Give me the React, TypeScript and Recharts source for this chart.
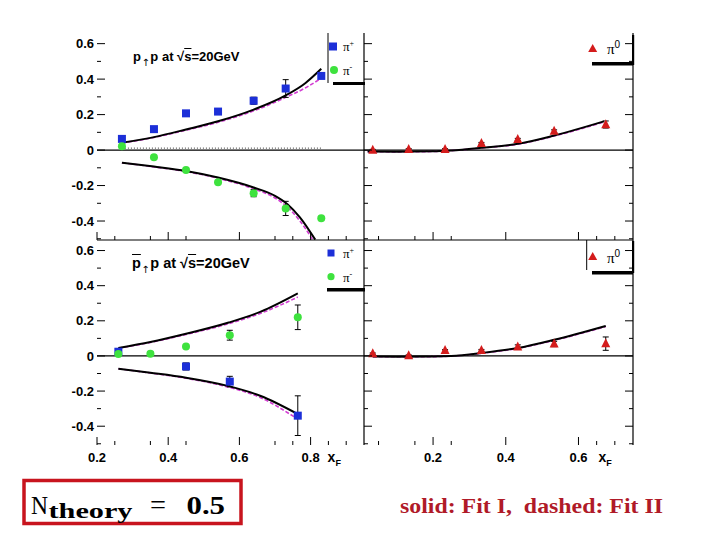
import React from "react";
import { ComposedChart, Line, Scatter, XAxis, YAxis, ErrorBar, ReferenceLine } from "recharts";

// ---------- data: p(up) p, sqrt(s)=20 GeV, charged pions (top left) ----------
const ppX = [0.27, 0.36, 0.45, 0.54, 0.64, 0.73, 0.83];
const ppPiPlus = [0.063, 0.118, 0.207, 0.217, 0.278, 0.347, 0.418];
const ppPiPlusErr = [0.008, 0.012, 0.008, 0.008, 0.02, 0.05, 0.01];
const ppPiMinus = [0.022, -0.041, -0.112, -0.181, -0.243, -0.329, -0.385];
const ppPiMinusErr = [0.005, 0.005, 0.006, 0.008, 0.02, 0.04, 0.008];

const ppUpX = [0.27, 0.36, 0.45, 0.54, 0.64, 0.73, 0.785, 0.83];
const ppFit1Plus = [0.041, 0.073, 0.116, 0.162, 0.228, 0.308, 0.377, 0.458];
const ppFit2Plus = [0.04, 0.071, 0.112, 0.157, 0.221, 0.297, 0.35, 0.405];
const ppLowX = [0.27, 0.36, 0.45, 0.54, 0.64, 0.7, 0.735, 0.77, 0.813];
const ppFit1Minus = [-0.071, -0.093, -0.118, -0.155, -0.211, -0.258, -0.305, -0.379, -0.505];
const ppFit2Minus = [-0.072, -0.095, -0.121, -0.159, -0.218, -0.27, -0.322, -0.4, -0.505];
const ppLowX2 = [0.27, 0.36, 0.45, 0.54, 0.64, 0.7, 0.735, 0.77, 0.806];
const ppDottedX = [0.27, 0.83];
const ppDotted = [0.011, 0.011];

// ---------- p(up) p, neutral pions (top right) ----------
const pi0X = [0.034, 0.133, 0.233, 0.333, 0.433, 0.533, 0.675];
const ppPi0 = [0.0, 0.004, 0.004, 0.038, 0.06, 0.106, 0.144];
const ppPi0Err = [0.004, 0.004, 0.004, 0.005, 0.006, 0.008, 0.02];
const ppPi0CurveX = [0.02, 0.1, 0.2, 0.25, 0.333, 0.433, 0.533, 0.67];
const ppPi0Fit1 = [-0.008, -0.009, -0.007, -0.002, 0.013, 0.035, 0.082, 0.162];
const ppPi0Fit2 = [-0.009, -0.01, -0.008, -0.003, 0.012, 0.033, 0.079, 0.158];

// ---------- pbar(up) p, charged pions (bottom left) ----------
const pbMinusX = [0.26, 0.35, 0.45, 0.573, 0.764];
const pbPiMinus = [0.011, 0.013, 0.054, 0.118, 0.22];
const pbPiMinusErr = [0.008, 0.01, 0.008, 0.028, 0.07];
const pbPlusX = [0.26, 0.45, 0.573, 0.764];
const pbPiPlus = [0.024, -0.06, -0.146, -0.34];
const pbPiPlusErr = [0.008, 0.02, 0.03, 0.113];

const pbCurveX = [0.26, 0.35, 0.45, 0.57, 0.66, 0.764];
const pbFit1Up = [0.045, 0.079, 0.126, 0.19, 0.252, 0.356];
const pbFit2Up = [0.044, 0.077, 0.122, 0.184, 0.243, 0.335];
const pbFit1Down = [-0.073, -0.096, -0.124, -0.172, -0.228, -0.331];
const pbFit2Down = [-0.073, -0.097, -0.127, -0.178, -0.238, -0.36];

// ---------- pbar(up) p, neutral pions (bottom right) ----------
const pbPi0 = [0.013, 0.002, 0.032, 0.032, 0.051, 0.068, 0.07];
const pbPi0Err = [0.004, 0.004, 0.004, 0.005, 0.012, 0.015, 0.038];
const pbPi0CurveX = [0.034, 0.1, 0.2, 0.25, 0.333, 0.433, 0.533, 0.675];
const pbPi0Fit1 = [-0.003, -0.004, -0.003, 0.0, 0.017, 0.045, 0.092, 0.171];
const pbPi0Fit2 = [-0.004, -0.005, -0.004, -0.001, 0.015, 0.043, 0.089, 0.167];

// ---------- axes ----------
const yTicks = [-0.5, -0.4, -0.3, -0.2, -0.1, 0, 0.1, 0.2, 0.3, 0.4, 0.5, 0.6];
const yLabels = [0.6, 0.4, 0.2, 0, -0.2, -0.4];
const leftXTicks = [0.2, 0.25, 0.35, 0.4, 0.45, 0.6, 0.7, 0.75, 0.8, 0.85, 0.9];
const leftXLabels = [0.2, 0.4, 0.6, 0.8];
const rightXTicks = [0.05, 0.15, 0.2, 0.25, 0.4, 0.6, 0.65, 0.7];
const rightXLabels = [0.2, 0.4, 0.6];
const leftXDomain = [0.2, 0.95];
const rightXDomain = [0.01, 0.75];
const yDomain = [-0.507, 0.66];

// ---------- helpers ----------
const zip = (xs: number[], ys: number[], es?: number[]) =>
  xs.map((x, i) => (es ? { x, y: ys[i], err: es[i] } : { x, y: ys[i] }));

const BLUE = "#1c2fd8";
const GREEN = "#3ee23e";
const RED = "#d41c1c";
const MAGENTA = "#d23cd2";
const AXIS_FONT = "'Liberation Sans', Arial, sans-serif";
const SERIF = "'Liberation Serif', 'Times New Roman', serif";

const near = (a: number, b: number) => Math.abs(a - b) < 1e-9;
const isMajor = (v: number) => near(Math.round(v * 5) / 5, v);

const squareShape = (size: number) => (p: any) => (
  <rect x={p.cx - size / 2} y={p.cy - size / 2} width={size} height={size} fill={BLUE} />
);
const circleShape = (r: number) => (p: any) => <circle cx={p.cx} cy={p.cy} r={r} fill={GREEN} />;
const triangleShape = (s: number) => (p: any) => (
  <polygon
    points={`${p.cx},${p.cy - s * 0.6} ${p.cx - s / 2},${p.cy + s * 0.4} ${p.cx + s / 2},${p.cy + s * 0.4}`}
    fill={RED}
  />
);

const xTick = (axisY: number, labels: number[] | null, xfOffset: number) => (props: any) => {
  const { x, payload } = props;
  const v: number = payload.value;
  const len = isMajor(v) ? 8 : 4;
  const showLabel = labels !== null && labels.some((l) => near(l, v));
  const isLast = labels !== null && near(labels[labels.length - 1], v);
  return (
    <g>
      <line x1={x} x2={x} y1={axisY} y2={axisY - len} stroke="#000" strokeWidth={1} />
      {showLabel && (
        <text x={x} y={axisY + 16.5} textAnchor="middle" fontFamily={AXIS_FONT} fontWeight="bold" fontSize={13} fill="#000">
          {String(v)}
        </text>
      )}
      {showLabel && isLast && (
        <text x={x + xfOffset} y={axisY + 16.5} fontFamily={AXIS_FONT} fontWeight="bold" fontSize={14} fill="#000">
          x
          <tspan dy={4} fontSize={9}>F</tspan>
        </text>
      )}
    </g>
  );
};

const yTickLeft = (plotLeft: number) => (props: any) => {
  const { y, payload } = props;
  const v: number = payload.value;
  const len = isMajor(v) ? 8 : 4;
  const showLabel = yLabels.some((l) => near(l, v));
  return (
    <g>
      <line x1={plotLeft} x2={plotLeft + len} y1={y} y2={y} stroke="#000" strokeWidth={1} />
      {showLabel && (
        <text x={plotLeft - 3} y={y} dy="0.36em" textAnchor="end" fontFamily={AXIS_FONT} fontWeight="bold" fontSize={13} fill="#000">
          {String(v)}
        </text>
      )}
    </g>
  );
};

const yTickRight = (plotLeft: number, plotRight: number) => (props: any) => {
  const { y, payload } = props;
  const v: number = payload.value;
  const len = isMajor(v) ? 8 : 4;
  return (
    <g>
      <line x1={plotLeft} x2={plotLeft + len} y1={y} y2={y} stroke="#000" strokeWidth={1} />
      <line x1={plotRight} x2={plotRight - len} y1={y} y2={y} stroke="#000" strokeWidth={1} />
    </g>
  );
};

const fitLines = (pairs: { x: number[]; y1: number[]; y2: number[] }[], prefix: string) => {
  const out: any[] = [];
  pairs.forEach((p, i) => {
    out.push(
      <Line
        key={`${prefix}d${i}`}
        data={zip(p.x, p.y2)}
        dataKey="y"
        type="monotone"
        dot={false}
        stroke={MAGENTA}
        strokeWidth={1.6}
        strokeDasharray="4 2"
        isAnimationActive={false}
      />
    );
  });
  pairs.forEach((p, i) => {
    out.push(
      <Line
        key={`${prefix}s${i}`}
        data={zip(p.x, p.y1)}
        dataKey="y"
        type="monotone"
        dot={false}
        stroke="#000"
        strokeWidth={2}
        isAnimationActive={false}
      />
    );
  });
  return out;
};

const abs = (left: number, top: number): React.CSSProperties => ({ position: "absolute", left, top });
const ARROW_STYLE: React.CSSProperties = {
  fontFamily: "'DejaVu Sans', sans-serif",
  fontWeight: "normal",
  fontSize: 10,
  position: "relative",
  top: 5,
  margin: "0 0.5px",
};

export default function App() {
  return (
    <div style={{ position: "absolute", left: 0, top: 0, width: 720, height: 540, background: "#fff", overflow: "hidden" }}>
      {/* top left: p(up)p charged */}
      <div style={abs(0, 0)}>
        <ComposedChart width={368} height={245} margin={{ top: 33, right: 4, bottom: 4, left: 0 }}>
          <XAxis type="number" dataKey="x" domain={leftXDomain} allowDataOverflow ticks={leftXTicks} interval={0} height={1}
            tickLine={false} axisLine={{ stroke: "#000", strokeWidth: 1.2 }} tick={xTick(240, null, 0)} />
          <YAxis type="number" dataKey="y" domain={yDomain} allowDataOverflow ticks={yTicks} interval={0} width={97}
            tickLine={false} axisLine={false} tick={yTickLeft(97)} />
          <ReferenceLine y={0} stroke="#000" strokeWidth={1.2} />
          <Line data={zip(ppDottedX, ppDotted)} dataKey="y" type="linear" dot={false} stroke="#333" strokeWidth={1} strokeDasharray="1 2" isAnimationActive={false} />
          {fitLines([{ x: ppUpX, y1: ppFit1Plus, y2: ppFit2Plus }], "tlu")}
          <Line data={zip(ppLowX2, ppFit2Minus)} dataKey="y" type="monotone" dot={false} stroke={MAGENTA} strokeWidth={1.6} strokeDasharray="4 2" isAnimationActive={false} />
          <Line data={zip(ppLowX, ppFit1Minus)} dataKey="y" type="monotone" dot={false} stroke="#000" strokeWidth={2} isAnimationActive={false} />
          <Scatter data={zip(ppX, ppPiPlus, ppPiPlusErr)} dataKey="y" shape={squareShape(8)} isAnimationActive={false}>
            <ErrorBar dataKey="err" direction="y" width={3} stroke="#000" strokeWidth={1} />
          </Scatter>
          <Scatter data={zip(ppX, ppPiMinus, ppPiMinusErr)} dataKey="y" shape={circleShape(4)} isAnimationActive={false}>
            <ErrorBar dataKey="err" direction="y" width={3} stroke="#000" strokeWidth={1} />
          </Scatter>
        </ComposedChart>
      </div>

      {/* bottom left: pbar(up)p charged */}
      <div style={abs(0, 236)}>
        <ComposedChart width={368} height={234} margin={{ top: 4, right: 4, bottom: 0, left: 0 }}>
          <XAxis type="number" dataKey="x" domain={leftXDomain} allowDataOverflow ticks={leftXTicks} interval={0} height={25}
            tickLine={false} axisLine={false} tick={xTick(209, leftXLabels, 17)} />
          <YAxis type="number" dataKey="y" domain={yDomain} allowDataOverflow ticks={yTicks} interval={0} width={97}
            tickLine={false} axisLine={false} tick={yTickLeft(97)} />
          <ReferenceLine y={0} stroke="#000" strokeWidth={1.2} />
          {fitLines(
            [
              { x: pbCurveX, y1: pbFit1Up, y2: pbFit2Up },
              { x: pbCurveX, y1: pbFit1Down, y2: pbFit2Down },
            ],
            "bl"
          )}
          <Scatter data={zip(pbPlusX, pbPiPlus, pbPiPlusErr)} dataKey="y" shape={squareShape(8)} isAnimationActive={false}>
            <ErrorBar dataKey="err" direction="y" width={3} stroke="#000" strokeWidth={1} />
          </Scatter>
          <Scatter data={zip(pbMinusX, pbPiMinus, pbPiMinusErr)} dataKey="y" shape={circleShape(4)} isAnimationActive={false}>
            <ErrorBar dataKey="err" direction="y" width={3} stroke="#000" strokeWidth={1} />
          </Scatter>
        </ComposedChart>
      </div>

      {/* top right: p(up)p neutral */}
      <div style={abs(360, 0)}>
        <ComposedChart width={277} height={245} margin={{ top: 33, right: 4, bottom: 4, left: 3 }}>
          <XAxis type="number" dataKey="x" domain={rightXDomain} allowDataOverflow ticks={rightXTicks} interval={0} height={1}
            tickLine={false} axisLine={{ stroke: "#000", strokeWidth: 1.2 }} tick={xTick(240, null, 0)} />
          <YAxis type="number" dataKey="y" domain={yDomain} allowDataOverflow ticks={yTicks} interval={0} width={1}
            tickLine={false} axisLine={{ stroke: "#000", strokeWidth: 1.2 }} tick={yTickRight(4, 273)} />
          <ReferenceLine y={0} stroke="#000" strokeWidth={1.2} />
          <ReferenceLine x={rightXDomain[1]} stroke="#000" strokeWidth={1.2} ifOverflow="visible" />
          {fitLines([{ x: ppPi0CurveX, y1: ppPi0Fit1, y2: ppPi0Fit2 }], "tr")}
          <Scatter data={zip(pi0X, ppPi0, ppPi0Err)} dataKey="y" shape={triangleShape(9)} isAnimationActive={false}>
            <ErrorBar dataKey="err" direction="y" width={3} stroke="#000" strokeWidth={1} />
          </Scatter>
        </ComposedChart>
      </div>

      {/* bottom right: pbar(up)p neutral */}
      <div style={abs(360, 236)}>
        <ComposedChart width={277} height={234} margin={{ top: 4, right: 4, bottom: 0, left: 3 }}>
          <XAxis type="number" dataKey="x" domain={rightXDomain} allowDataOverflow ticks={rightXTicks} interval={0} height={25}
            tickLine={false} axisLine={false} tick={xTick(209, rightXLabels, 20)} />
          <YAxis type="number" dataKey="y" domain={yDomain} allowDataOverflow ticks={yTicks} interval={0} width={1}
            tickLine={false} axisLine={{ stroke: "#000", strokeWidth: 1.2 }} tick={yTickRight(4, 273)} />
          <ReferenceLine y={0} stroke="#000" strokeWidth={1.2} />
          <ReferenceLine x={rightXDomain[1]} stroke="#000" strokeWidth={1.2} ifOverflow="visible" />
          {fitLines([{ x: pbPi0CurveX, y1: pbPi0Fit1, y2: pbPi0Fit2 }], "br")}
          <Scatter data={zip(pi0X, pbPi0, pbPi0Err)} dataKey="y" shape={triangleShape(9)} isAnimationActive={false}>
            <ErrorBar dataKey="err" direction="y" width={3} stroke="#000" strokeWidth={1} />
          </Scatter>
        </ComposedChart>
      </div>

      {/* panel titles */}
      <div style={{ ...abs(133, 49), fontFamily: AXIS_FONT, fontWeight: "bold", fontSize: 13, lineHeight: "15px", whiteSpace: "nowrap", color: "#000" }}>
        p<span style={ARROW_STYLE}>↑</span>p at √<span style={{ textDecoration: "overline" }}>s</span>=20GeV
      </div>
      <div style={{ ...abs(132, 255), fontFamily: AXIS_FONT, fontWeight: "bold", fontSize: 14.5, lineHeight: "16px", whiteSpace: "nowrap", color: "#000" }}>
        <span style={{ textDecoration: "overline" }}>p</span>
        <span style={ARROW_STYLE}>↑</span>p at √<span style={{ textDecoration: "overline" }}>s</span>=20GeV
      </div>

      {/* legends and bottom annotations */}
      <svg width={720} height={540} style={{ position: "absolute", left: 0, top: 0, pointerEvents: "none" }}>
        {/* top-left legend */}
        <line x1={328} x2={328} y1={33} y2={83} stroke="#000" strokeWidth={1} />
        <rect x={329} y={42.5} width={8} height={8} fill={BLUE} />
        <text x={343} y={51} fontFamily={SERIF} fontSize={13} fill="#000">π<tspan dy={-5} fontSize={8}>+</tspan></text>
        <circle cx={334} cy={70} r={4} fill={GREEN} />
        <text x={343} y={75} fontFamily={SERIF} fontSize={13} fill="#000">π<tspan dy={-5} fontSize={8}>-</tspan></text>
        <rect x={333} y={82} width={32} height={3} fill="#000" />

        {/* bottom-left legend */}
        <rect x={327.5} y={249.5} width={7} height={7} fill={BLUE} />
        <text x={343} y={258} fontFamily={SERIF} fontSize={13} fill="#000">π<tspan dy={-5} fontSize={8}>+</tspan></text>
        <circle cx={331} cy={276.7} r={3.6} fill={GREEN} />
        <text x={343} y={282} fontFamily={SERIF} fontSize={13} fill="#000">π<tspan dy={-5} fontSize={8}>-</tspan></text>
        <rect x={327} y={288} width={38} height={3.5} fill="#000" />

        {/* top-right legend */}
        <polygon points="592.7,44 588.2,52 597.2,52" fill={RED} />
        <text x={607} y={54} fontFamily={SERIF} fontSize={15} fill="#000">π<tspan dy={-6} fontFamily={AXIS_FONT} fontSize={10}>0</tspan></text>
        <rect x={592} y={62} width={41} height={3.5} fill="#000" />
        <rect x={632} y={35} width={2.2} height={30} fill="#000" />

        {/* bottom-right legend */}
        <line x1={586.7} x2={586.7} y1={240} y2={270} stroke="#000" strokeWidth={1} />
        <polygon points="592.7,252 588.2,260 597.2,260" fill={RED} />
        <text x={607} y={263} fontFamily={SERIF} fontSize={15} fill="#000">π<tspan dy={-6} fontFamily={AXIS_FONT} fontSize={10}>0</tspan></text>
        <rect x={592} y={271} width={41} height={3.5} fill="#000" />
        <rect x={632} y={241} width={2.2} height={32} fill="#000" />

        {/* N_theory box */}
        <rect x={24} y={480.5} width={217} height={43} fill="none" stroke="#c8141e" strokeWidth={3.5} />
        <text x={31} y={514} fontFamily={SERIF} fontSize={26} fill="#000" textLength={17} lengthAdjust="spacingAndGlyphs">N</text>
        <text x={48.5} y={518} fontFamily={SERIF} fontWeight="bold" fontSize={20} fill="#000" textLength={84} lengthAdjust="spacingAndGlyphs">theory</text>
        <text x={150} y={514} fontFamily={SERIF} fontSize={28} fill="#000" textLength={16} lengthAdjust="spacingAndGlyphs">=</text>
        <text x={186.5} y={514} fontFamily={SERIF} fontWeight="bold" fontSize={26} fill="#000" textLength={38.5} lengthAdjust="spacingAndGlyphs">0.5</text>

        {/* fit legend text */}
        <text x={400} y={513.3} fontFamily={SERIF} fontWeight="bold" fontSize={21} fill="#b01a28" textLength={263} lengthAdjust="spacingAndGlyphs" style={{ whiteSpace: "pre" }}>
          {"solid: Fit I,  dashed: Fit II"}
        </text>
      </svg>
    </div>
  );
}
